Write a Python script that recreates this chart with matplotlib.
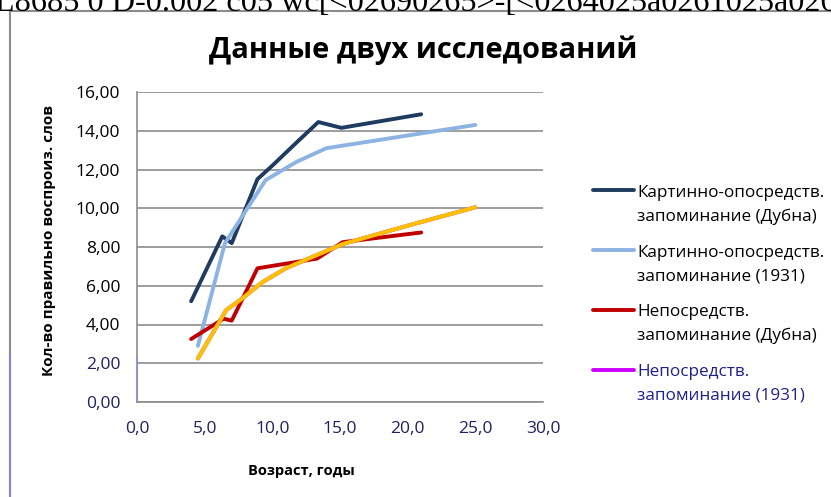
import numpy as np
import matplotlib
matplotlib.use("Agg")
from matplotlib import pyplot as plt
from matplotlib.ticker import FuncFormatter
from matplotlib.legend_handler import HandlerLine2D

#%% Données

# Картинно-опосредств. запоминание (Дубна)
age_kart_dubna = [4.0, 6.3, 7.0, 8.9, 10.0, 11.8, 13.4, 15.1, 21.0]
val_kart_dubna = [5.2, 8.55, 8.2, 11.5, 12.2, 13.4, 14.45, 14.15, 14.85]

# Картинно-опосредств. запоминание (1931)
age_kart_1931 = [4.5, 6.5, 9.5, 11.8, 14.0, 25.0]
val_kart_1931 = [2.9, 8.2, 11.45, 12.4, 13.1, 14.3]

# Непосредств. запоминание (Дубна)
age_nep_dubna = [4.0, 6.4, 7.0, 8.9, 13.3, 15.2, 21.0]
val_nep_dubna = [3.25, 4.3, 4.2, 6.9, 7.4, 8.25, 8.75]

# Непосредств. запоминание (1931)
age_nep_1931 = [4.5, 6.6, 7.6, 9.3, 11.0, 13.0, 15.2, 20.0, 25.0]
val_nep_1931 = [2.25, 4.75, 5.25, 6.2, 6.9, 7.5, 8.15, 9.1, 10.05]

legend_labels = ["Картинно-опосредств.\nзапоминание (Дубна)",
                 "Картинно-опосредств.\nзапоминание (1931)",
                 "Непосредств.\nзапоминание (Дубна)",
                 "Непосредств.\nзапоминание (1931)"]


#%% Trait de légende aligné sur la première ligne du texte

class LigneHaute(HandlerLine2D):
    def create_artists(self, legend, orig_handle, xdescent, ydescent, width, height, fontsize, trans):
        arts = super().create_artists(legend, orig_handle, xdescent, ydescent, width, height, fontsize, trans)
        for a in arts:
            a.set_ydata(np.asarray(a.get_ydata()) + 0.85 * fontsize)
        return arts


#%% Figure

plt.rcParams['font.family'] = ['Open Sans', 'DejaVu Sans']

fig = plt.figure(figsize=(8.31, 4.97), dpi=100)
ax = fig.add_axes([137/831, 1 - 402/497, 406/831, 310/497])

ax.plot(age_kart_dubna, val_kart_dubna, color='#1F3B60', lw=2.8, solid_capstyle='round', label=legend_labels[0], zorder=3)
ax.plot(age_kart_1931, val_kart_1931, color='#8DB3E2', lw=2.8, solid_capstyle='round', label=legend_labels[1], zorder=3)
ax.plot(age_nep_dubna, val_nep_dubna, color='#C00000', lw=2.8, solid_capstyle='round', label=legend_labels[2], zorder=3)
ax.plot(age_nep_1931, val_nep_1931, color='#CC00FF', lw=2.8, solid_capstyle='round', label=legend_labels[3], zorder=3)
ax.plot(age_nep_1931, val_nep_1931, color='#FFC000', lw=2.9, solid_capstyle='round', zorder=4)  # courbe jaune par-dessus

ax.set_xlim(0, 30)
ax.set_ylim(0, 16)
ax.set_xticks(np.arange(0, 31, 5))
ax.set_yticks(np.arange(0, 17, 2))
ax.xaxis.set_major_formatter(FuncFormatter(lambda v, p: ('%.1f' % v).replace('.', ',')))
ax.yaxis.set_major_formatter(FuncFormatter(lambda v, p: ('%.2f' % v).replace('.', ',')))
ax.tick_params(length=0, labelsize=12.5)
ax.tick_params(axis='x', pad=14)
ax.tick_params(axis='y', pad=12)
for lab in ax.get_xticklabels():
    lab.set_color('#1E2060')
for lab in ax.get_yticklabels()[:2]:
    lab.set_color('#1E2060')

ax.grid(axis='y', color='#8C8C8C', lw=1.2)
ax.set_axisbelow(True)
for s in ['top', 'right']:
    ax.spines[s].set_visible(False)
ax.spines['left'].set_color('#8C8C8C')
ax.spines['bottom'].set_color('#8C8C8C')
ax.spines['left'].set_linewidth(1.2)
ax.spines['bottom'].set_linewidth(1.2)
ax.axvline(0, ymin=0, ymax=2.3/16, color='#8080FF', lw=1.2, zorder=5)

ax.set_xlabel('Возраст, годы', fontsize=10.5, fontweight='bold')
ax.set_ylabel('Кол-во правильно воспроиз. слов', fontsize=11, fontweight='bold')
ax.xaxis.set_label_coords((301 - 137) / 406, (402 - 464) / 310)
ax.yaxis.set_label_coords((56 - 137) / 406, (402 - 241) / 310)

fig.text(423/831, 1 - 50/497, 'Данные двух исследований', fontsize=21, fontweight='bold',
         ha='center', va='center')

leg = ax.legend(loc='upper left', bbox_to_anchor=(584/831, 1 - 176/497), bbox_transform=fig.transFigure,
                frameon=False, fontsize=12.3, handlelength=2.4, handletextpad=0.2, labelspacing=1.15,
                borderpad=0, handler_map={plt.Line2D: LigneHaute()})
for t in leg.get_texts():
    t.set_linespacing(1.65)
leg.get_texts()[3].set_color('#1E2090')

# bordures et texte parasite de la capture d'écran
fig.add_artist(plt.Line2D([10/831, 1], [1 - 11/497, 1 - 11/497], color='#8C8C8C', lw=1.5))
fig.add_artist(plt.Line2D([10/831, 10/831], [1 - 11/497, 1 - 355/497], color='#8C8C8C', lw=1.5))
fig.add_artist(plt.Line2D([10/831, 10/831], [1 - 355/497, 0], color='#8080FF', lw=1.5))
fig.text(-0.006, 1 - 11/497, 'L8685 0 D-0.002 c05 wc[<02690265>-[<0264025a0261025a026',
         family='Liberation Serif', fontsize=23.2, va='baseline', ha='left')

fig.savefig('out.png', dpi=100)
